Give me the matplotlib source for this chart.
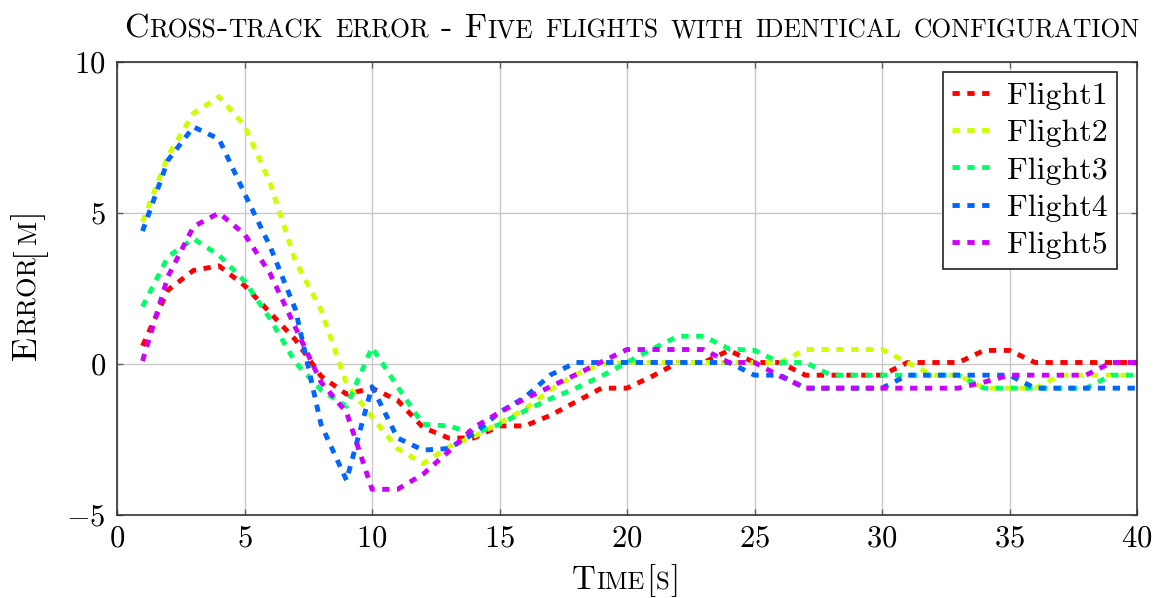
import matplotlib
matplotlib.use('Agg')
import matplotlib.pyplot as plt
from matplotlib.font_manager import FontProperties
from matplotlib.transforms import IdentityTransform

# data (1 s steps)
time_s = list(range(1, 41))
flight1 = [0.6, 2.45, 3.1, 3.25, 2.6, 1.7, 0.8, -0.4, -1.0, -0.8,
           -1.2, -2.1, -2.45, -2.45, -2.05, -2.05, -1.7, -1.25, -0.8, -0.8,
           -0.4, 0.05, 0.05, 0.45, 0.05, 0.05, -0.37, -0.37, -0.37, -0.37,
           0.05, 0.05, 0.05, 0.45, 0.45, 0.05, 0.05, 0.05, 0.05, 0.05]
flight2 = [4.7, 6.9, 8.3, 8.85, 7.9, 6.0, 3.4, 1.8, -0.65, -1.75,
           -2.8, -3.3, -2.75, -2.4, -1.95, -1.5, -0.85, -0.35, 0.0, 0.05,
           0.05, 0.05, 0.05, 0.05, 0.05, 0.05, 0.48, 0.48, 0.48, 0.48,
           0.05, -0.37, -0.37, -0.8, -0.8, -0.8, -0.37, -0.37, -0.37, -0.37]
flight3 = [1.9, 3.55, 4.15, 3.6, 2.75, 1.5, 0.05, -0.86, -1.4, 0.55,
           -0.75, -2.0, -2.05, -2.3, -2.0, -1.55, -1.15, -0.8, -0.4, 0.05,
           0.5, 0.92, 0.92, 0.5, 0.45, 0.05, 0.05, -0.37, -0.37, -0.37,
           -0.37, -0.37, -0.37, -0.8, -0.8, -0.8, -0.8, -0.8, -0.37, -0.37]
flight4 = [4.4, 6.75, 7.85, 7.45, 5.65, 3.9, 1.8, -2.0, -3.85, -0.75,
           -2.45, -2.85, -2.8, -2.3, -1.6, -1.1, -0.36, 0.05, 0.05, 0.05,
           0.05, 0.05, 0.05, 0.05, -0.37, -0.37, -0.8, -0.8, -0.8, -0.8,
           -0.37, -0.37, -0.37, -0.37, -0.37, -0.8, -0.8, -0.8, -0.8, -0.8]
flight5 = [0.1, 2.9, 4.55, 5.0, 4.3, 3.0, 1.2, -0.6, -1.6, -4.15,
           -4.15, -3.65, -2.9, -2.1, -1.6, -1.15, -0.75, -0.35, 0.07, 0.48,
           0.48, 0.48, 0.48, 0.05, 0.05, -0.4, -0.8, -0.8, -0.8, -0.8,
           -0.8, -0.8, -0.8, -0.6, -0.37, -0.37, -0.37, -0.37, 0.05, 0.05]

series = [flight1, flight2, flight3, flight4, flight5]
labels = ['Flight1', 'Flight2', 'Flight3', 'Flight4', 'Flight5']
colors = ['#ff0000', '#ccff00', '#00ff66', '#0066ff', '#cc00ff']

x_ticks = [0, 5, 10, 15, 20, 25, 30, 35, 40]
y_ticks = [-5, 0, 5, 10]

plt.rcParams['font.family'] = 'cmr10'
plt.rcParams['mathtext.fontset'] = 'cm'
plt.rcParams['axes.formatter.use_mathtext'] = True

FS = 22


def sc_runs(s):
    # split text into runs for fake small caps
    runs = []
    for ch in s:
        if ch == ' ':
            runs.append([' ', False])
            continue
        small = ch.islower()
        if runs and runs[-1][1] == small and runs[-1][0] != ' ':
            runs[-1][0] += ch.upper()
        else:
            runs.append([ch.upper(), small])
    return runs


def sc_measure(fig, s, size, ratio):
    r = fig.canvas.get_renderer()
    pieces, total = [], 0
    for txt, small in sc_runs(s):
        sz = size * ratio if small else size
        if txt == ' ':
            w = 0.333 * size * fig.dpi / 72
        else:
            w, _, _ = r.get_text_width_height_descent(
                txt, FontProperties(family='cmr10', size=sz), ismath=False)
            w += 0.03 * size
        pieces.append((txt, sz, w))
        total += w
    return pieces, total


def sc_text(fig, x, y, s, size, rot=0, ratio=0.75, width=None):
    pieces, total = sc_measure(fig, s, size, ratio)
    if width is not None:
        # fit the text to the width seen in the reference
        size = size * width / total
        pieces, total = sc_measure(fig, s, size, ratio)
    pos = -total / 2
    for txt, sz, w in pieces:
        if txt != ' ':
            px, py = (x + pos, y) if rot == 0 else (x, y + pos)
            fig.text(px, py, txt, fontsize=sz, family='cmr10', rotation=rot,
                     rotation_mode='anchor', ha='left', va='baseline',
                     transform=IdentityTransform())
        pos += w


fig = plt.figure(figsize=(11.59, 5.98), dpi=100)
ax = fig.add_axes([117 / 1159, 1 - 515 / 598, 1020 / 1159, 453 / 598])

for ys, lab, c in zip(series, labels, colors):
    ax.plot(time_s, ys, color=c, lw=3.5, linestyle=(0, (1.5, 1.55)),
            dash_capstyle='butt', label=lab)

ax.set_xlim(0, 40)
ax.set_ylim(-5, 10)
ax.set_xticks(x_ticks)
ax.set_yticks(y_ticks)
ax.grid(True, color='#c8c8c8', lw=1.0)
ax.set_axisbelow(True)
ax.tick_params(direction='in', length=4, width=1, color='#606060',
               top=True, right=True, labelsize=FS)
ax.tick_params(axis='x', pad=7)
ax.tick_params(axis='y', pad=8)
for sp in ax.spines.values():
    sp.set_color('#333333')
    sp.set_linewidth(1.2)

leg = ax.legend(loc='upper right', bbox_to_anchor=(1000 / 1020, (515 - 72) / 453),
                borderaxespad=0, fontsize=23, fancybox=False, framealpha=1,
                edgecolor='#222222', handlelength=1.25, handletextpad=0.45,
                labelspacing=0.28, borderpad=0.3)
leg.get_frame().set_linewidth(1.2)

sc_text(fig, 632, 598 - 37, 'Cross-track error - Five flights with identical configuration',
        FS, width=1020)
sc_text(fig, 36, 598 - 285, 'Error[m]', FS, rot=90, width=150)
sc_text(fig, 626, 598 - 589, 'Time[s]', FS, width=108)

fig.savefig('out.png', dpi=100)
